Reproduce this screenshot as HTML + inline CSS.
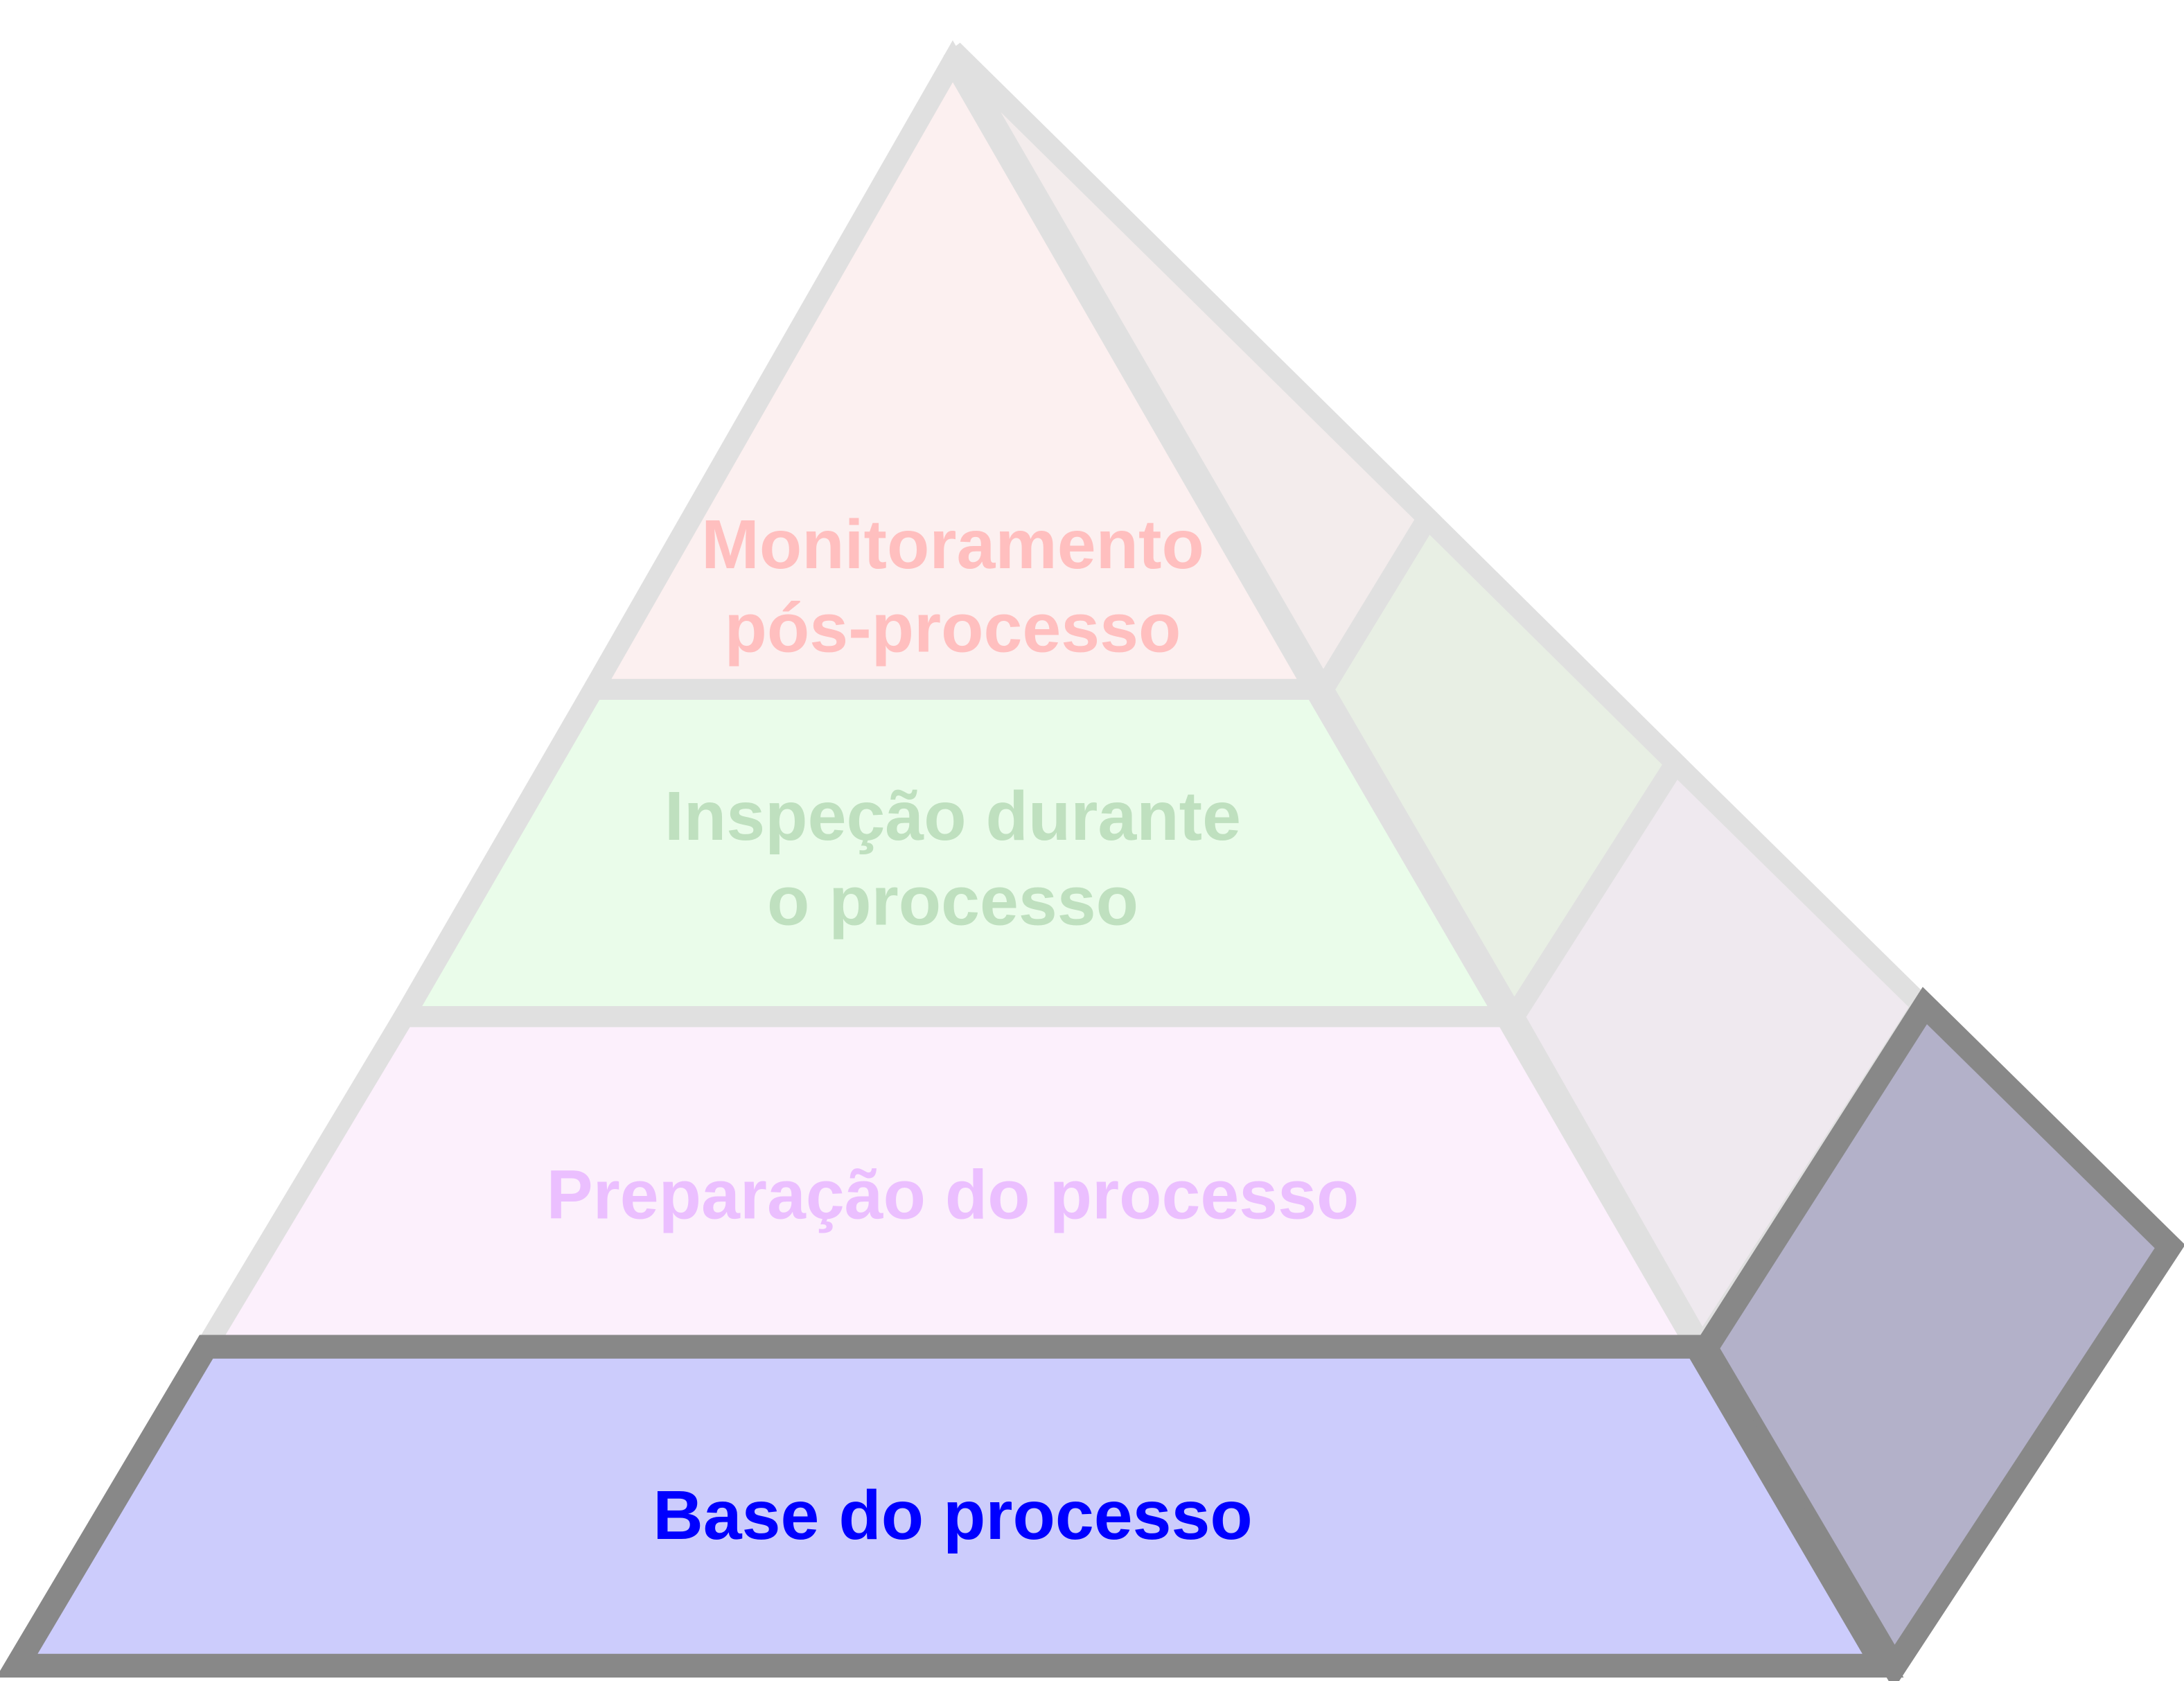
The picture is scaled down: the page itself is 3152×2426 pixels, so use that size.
<!DOCTYPE html>
<html><head><meta charset="utf-8"><style>
html,body{margin:0;padding:0;background:#fff;}
svg{display:block;}
text{font-family:"Liberation Sans",Arial,sans-serif;font-weight:bold;font-size:50px;text-anchor:middle;}
</style></head><body>
<svg width="3152" height="2426" viewBox="0 0 1568 1207" xmlns="http://www.w3.org/2000/svg">
<g stroke-linejoin="miter" stroke-width="15">
<polygon points="684,36 1025,372 950,495" fill="#f3ecec" stroke="#e0e0e0"/>
<polygon points="1025,372 1203,548 1087,730 950,495" fill="#e8efe4" stroke="#e0e0e0"/>
<polygon points="1203,548 1380,722 1222,967 1087,730" fill="#efe9ef" stroke="#e0e0e0"/>
<polygon points="684,44 944,495 426,495" fill="#fcf0f0" stroke="#e0e0e0"/>
<polygon points="426,495 944,495 1081,730 290,730" fill="#eafcea" stroke="#e0e0e0"/>
<polygon points="290,730 1081,730 1218,967 148,967" fill="#fcf0fc" stroke="#e0e0e0"/>
<polygon points="1382,722 1558,895 1360,1197 1225,968" fill="#b3b1c9" stroke="#888888" stroke-width="17"/>
<polygon points="148,967 1218,967 1352,1196 12,1196" fill="#ccccfc" stroke="#888888" stroke-width="17"/>
</g>
<text x="684" y="408" fill="#ffbfbf">Monitoramento</text>
<text x="684" y="468" fill="#ffbfbf">pós-processo</text>
<text x="684" y="603" fill="#bfe0bf">Inspeção durante</text>
<text x="684" y="664" fill="#bfe0bf">o processo</text>
<text x="684" y="875" fill="#ebbfff">Preparação do processo</text>
<text x="684" y="1105" fill="#0000ff">Base do processo</text>
</svg>
</body></html>
